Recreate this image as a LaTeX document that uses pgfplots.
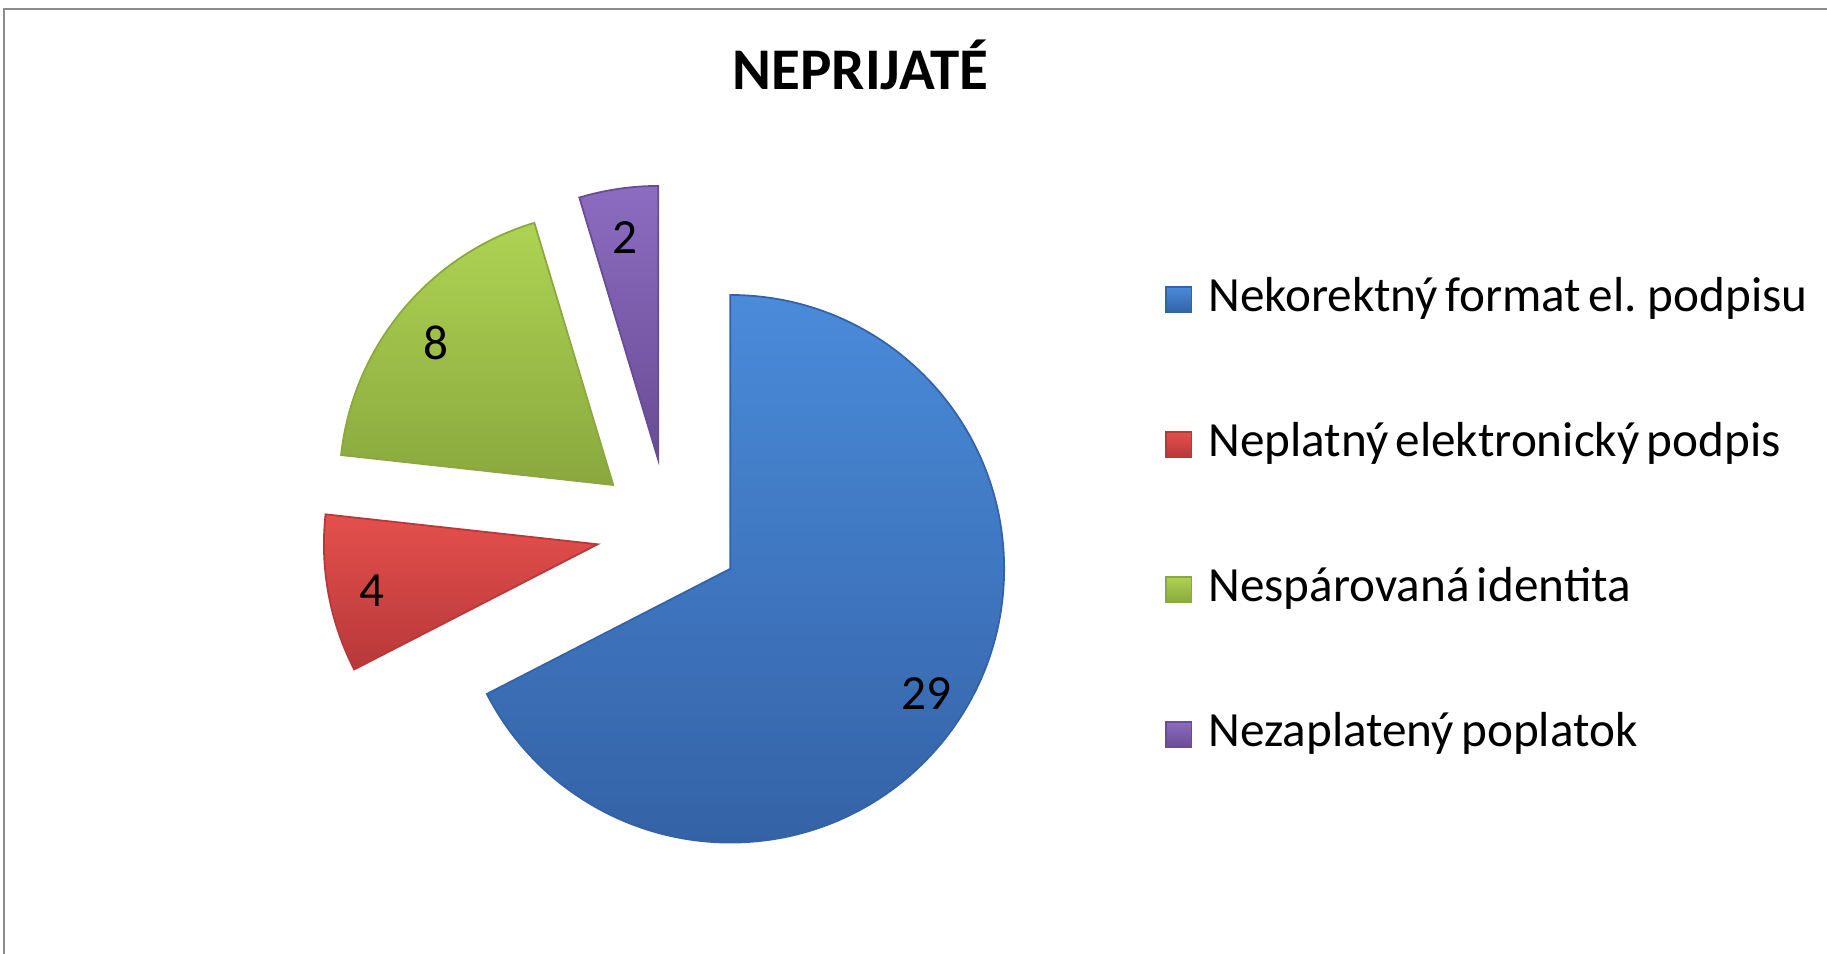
\documentclass[border=0pt]{standalone}
\usepackage{pgfplots}
\pgfplotsset{compat=1.18}
\usepackage{pgfplotstable}
\usepackage{fontspec}
\setmainfont{Carlito}[WordSpace=0.65]

\definecolor{bluetop}{HTML}{4A8BDA}
\definecolor{bluebot}{HTML}{3462A6}
\definecolor{redtop}{HTML}{E4504C}
\definecolor{redbot}{HTML}{B8383A}
\definecolor{greentop}{HTML}{AED353}
\definecolor{greenbot}{HTML}{8AA83E}
\definecolor{purptop}{HTML}{8C6CC0}
\definecolor{purpbot}{HTML}{694C96}
\definecolor{frame}{HTML}{8C8C8C}

\newcommand\lblfont{\fontsize{14}{16}\selectfont}

% slice values, in clockwise order from 12 o'clock
\pgfplotstableread{
value topc     botc
29    bluetop  bluebot
4     redtop   redbot
8     greentop greenbot
2     purptop  purpbot
}\piedata

% geometry in picture pixels (1 px = 0.01cm)
\def\Px{668.7}\def\Py{422.8}  % pie centre
\def\D{72.2}                  % explode distance
\def\Rpx{273.8}\def\R{2.738cm}% radius

\begin{document}
\begin{tikzpicture}
\useasboundingbox (0,0) rectangle (18.27cm,9.54cm);
\begin{axis}[
    width=18.27cm, height=9.54cm, scale only axis,
    at={(0,0)}, anchor=south west,
    xmin=0, xmax=1827, ymin=0, ymax=954,
    hide axis, clip=false,
    legend cell align=left,
    legend image code/.code={\path[#1] (0cm,-0.128cm) rectangle (0.256cm,0.128cm);},
    legend style={at={(axis cs:1154,686)}, anchor=north west, draw=none, fill=none,
        font=\lblfont, row sep=0.97cm, column sep=0.16cm,
        nodes={inner sep=0pt, text height=0.36cm, text depth=0.12cm}},
  ]
  % chart frame (left and top edges only)
  \draw[frame, line width=0.7pt] (axis cs:4,0) -- (axis cs:4,945) -- (axis cs:1827,945);
  \node[font=\fontsize{16.8}{18}\selectfont\bfseries, anchor=base] at (axis cs:860.5,864.3) {NEPRIJATÉ};

  \pgfmathsetmacro\tot{0}
  \pgfplotsforeachungrouped \i in {0,...,3}{%
    \pgfplotstablegetelem{\i}{value}\of\piedata
    \pgfmathsetmacro\tot{\tot+\pgfplotsretval}}
  \def\cum{90}
  \pgfplotsforeachungrouped \i in {0,...,3}{%
    \pgfplotstablegetelem{\i}{value}\of\piedata \let\v\pgfplotsretval
    \pgfplotstablegetelem{\i}{topc}\of\piedata \let\ct\pgfplotsretval
    \pgfplotstablegetelem{\i}{botc}\of\piedata \let\cb\pgfplotsretval
    \pgfmathsetmacro\sa{\cum}
    \pgfmathsetmacro\sb{\cum-360*\v/\tot}
    \pgfmathsetmacro\sm{(\sa+\sb)/2}
    \pgfmathsetmacro\ax{\Px+\D*cos(\sm)}
    \pgfmathsetmacro\ay{\Py+\D*sin(\sm)}
    \pgfmathsetmacro\lx{\ax+0.84*\Rpx*cos(\sm)}
    \pgfmathsetmacro\ly{\ay+0.84*\Rpx*sin(\sm)-5}
    \pgfmathtruncatemacro\vi{\v}
    \edef\next{%
      \noexpand\path[draw=\cb, line width=0.5pt, top color=\ct, bottom color=\cb]
        (axis cs:\ax,\ay) -- ++(\sa:\R) arc[start angle=\sa, end angle=\sb, radius=\R] -- cycle;
      \noexpand\node[font=\noexpand\lblfont] at (axis cs:\lx,\ly) {\vi};}%
    \next
    \let\cum\sb
  }

  \addlegendimage{draw=bluebot, top color=bluetop, bottom color=bluebot}
  \addlegendentry{Nekorektný format el. podpisu}
  \addlegendimage{draw=redbot, top color=redtop, bottom color=redbot}
  \addlegendentry{Neplatný elektronický podpis}
  \addlegendimage{draw=greenbot, top color=greentop, bottom color=greenbot}
  \addlegendentry{Nespárovaná identita}
  \addlegendimage{draw=purpbot, top color=purptop, bottom color=purpbot}
  \addlegendentry{Nezaplatený poplatok}
\end{axis}
\end{tikzpicture}
\end{document}
